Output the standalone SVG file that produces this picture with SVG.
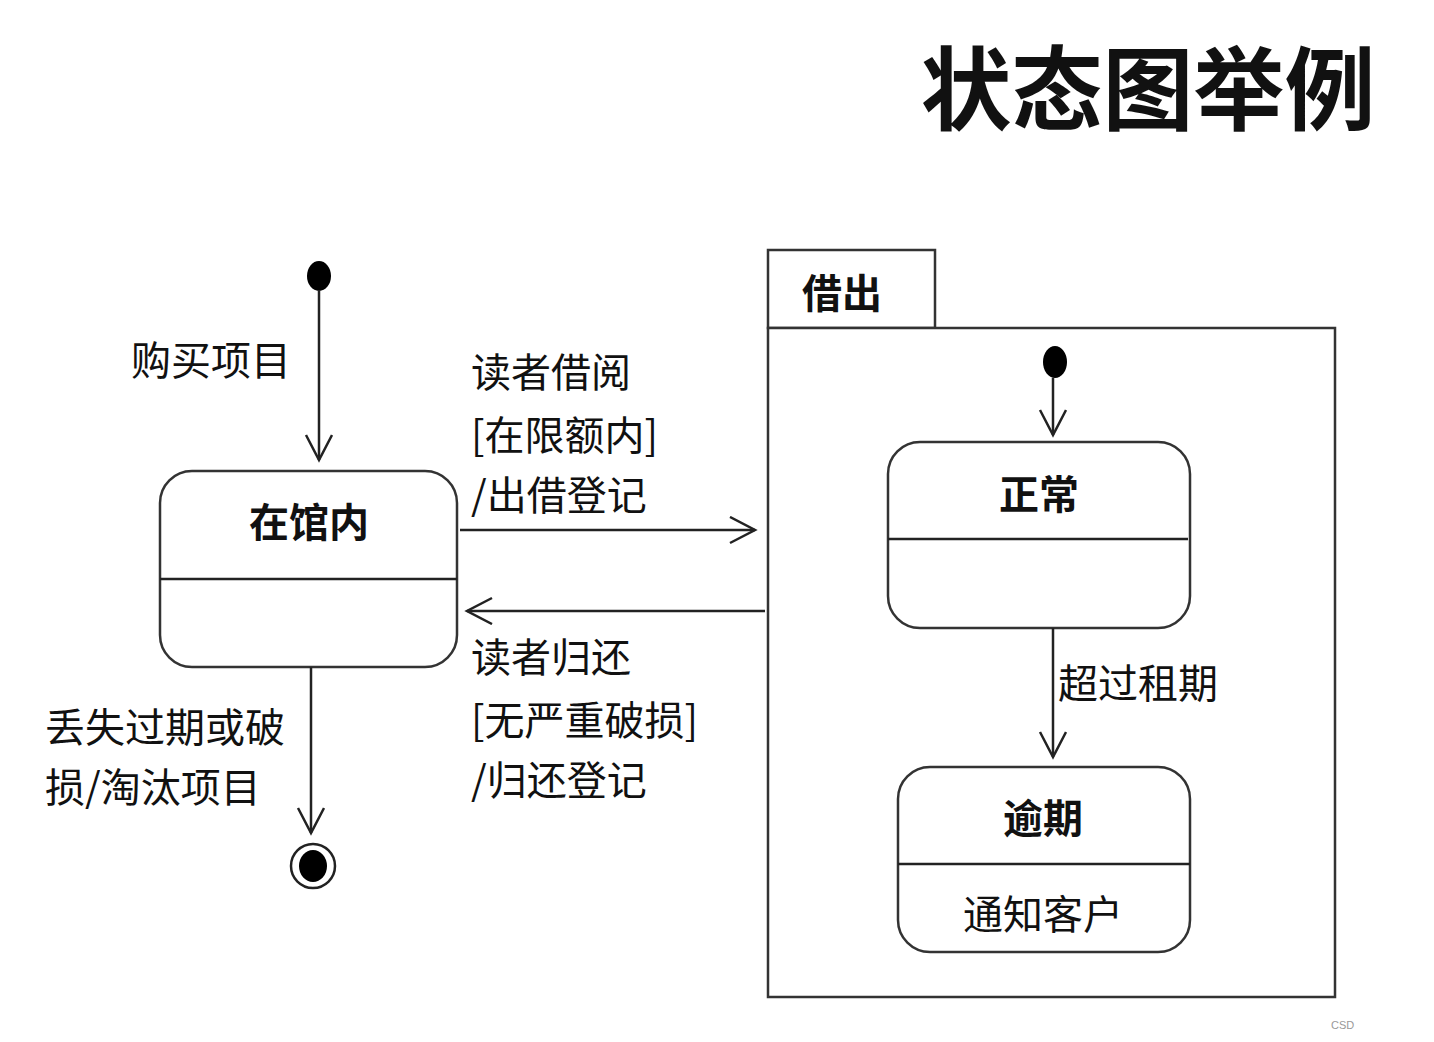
<svg xmlns="http://www.w3.org/2000/svg" width="1434" height="1042" viewBox="0 0 1434 1042">
<style>
.ln{stroke:#222;stroke-width:2.5;fill:none}
.st{stroke:#333;stroke-width:2.5;fill:#fff}
.t{font-family:"Noto Sans CJK SC","Liberation Sans",sans-serif;font-size:40px;fill:#111}
.b{font-weight:bold}
</style>
<defs>
<marker id="arr" markerUnits="userSpaceOnUse" markerWidth="40" markerHeight="40" refX="26" refY="14" orient="auto">
<path d="M1,1 L26,14 L1,27" fill="none" stroke="#222" stroke-width="2.5"/>
</marker>
</defs>
<rect width="1434" height="1042" fill="#fff"/>
<text class="t b" x="1148" y="123" text-anchor="middle" style="font-size:91px">状态图举例</text>

<g id="composite-borrowed">
<rect class="st" x="768" y="250" width="167" height="78"/>
<rect class="st" x="768" y="328" width="567" height="669" fill="none"/>
<text class="t b" x="802" y="308">借出</text>
</g>

<g id="initial-main"><ellipse cx="319" cy="276" rx="12" ry="15" fill="#000"/></g>
<g id="initial-inner"><ellipse cx="1055" cy="362" rx="12" ry="16" fill="#000"/></g>

<g id="state-inlib">
<rect class="st" x="160" y="471" width="297" height="196" rx="32"/>
<line class="ln" x1="160" y1="579" x2="457" y2="579"/>
<text class="t b" x="309" y="537" text-anchor="middle">在馆内</text>
</g>

<g id="state-normal">
<rect class="st" x="888" y="442" width="302" height="186" rx="32"/>
<line class="ln" x1="888" y1="539" x2="1188" y2="539"/>
<text class="t b" x="1039" y="509" text-anchor="middle">正常</text>
</g>

<g id="state-overdue">
<rect class="st" x="898" y="767" width="292" height="185" rx="32"/>
<line class="ln" x1="898" y1="864" x2="1190" y2="864"/>
<text class="t b" x="1043" y="833" text-anchor="middle">逾期</text>
<text class="t" x="1043" y="929" text-anchor="middle">通知客户</text>
</g>

<g id="final"><circle cx="313" cy="866" r="22" fill="#fff" stroke="#222" stroke-width="2.5"/><ellipse cx="313" cy="866" rx="14" ry="16" fill="#000"/></g>

<g id="connectors">
<line class="ln" x1="319" y1="290" x2="319" y2="460" marker-end="url(#arr)"/>
<line class="ln" x1="460" y1="530" x2="755" y2="530" marker-end="url(#arr)"/>
<line class="ln" x1="765" y1="611" x2="467" y2="611" marker-end="url(#arr)"/>
<line class="ln" x1="311" y1="667" x2="311" y2="833" marker-end="url(#arr)"/>
<line class="ln" x1="1053" y1="378" x2="1053" y2="435" marker-end="url(#arr)"/>
<line class="ln" x1="1053" y1="628" x2="1053" y2="757" marker-end="url(#arr)"/>
</g>

<g id="labels">
<text class="t" x="131" y="375">购买项目</text>
<text class="t" x="471" y="387">读者借阅</text>
<text class="t" x="471" y="450">[在限额内]</text>
<text class="t" x="471" y="510">/出借登记</text>
<text class="t" x="471" y="672">读者归还</text>
<text class="t" x="471" y="735">[无严重破损]</text>
<text class="t" x="471" y="795">/归还登记</text>
<text class="t" x="45" y="742">丢失过期或破</text>
<text class="t" x="45" y="802">损/淘汰项目</text>
<text class="t" x="1058" y="698">超过租期</text>
</g>
<text x="1331" y="1029" style="font-family:'Liberation Sans',sans-serif;font-size:11px;fill:#999">CSD</text>
</svg>
